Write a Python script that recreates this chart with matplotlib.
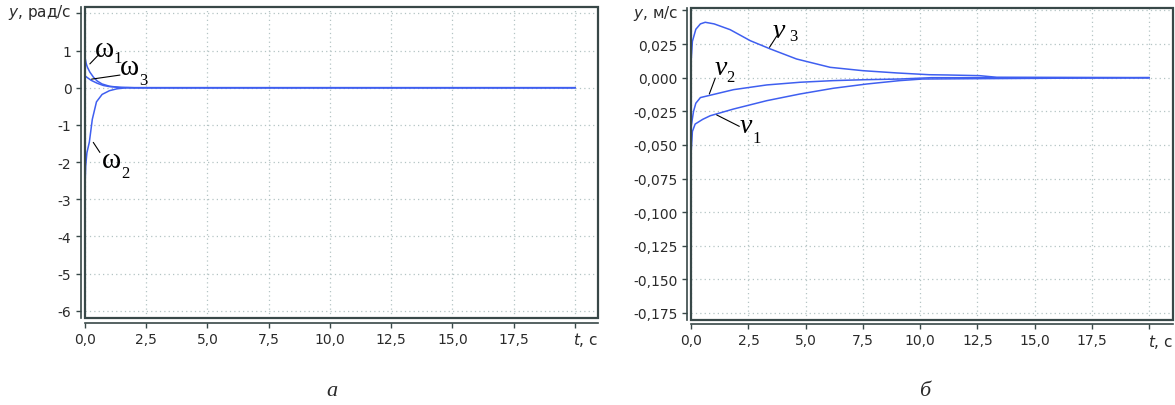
import matplotlib
matplotlib.use('Agg')
import matplotlib.pyplot as plt
from matplotlib.patches import Rectangle
from matplotlib.ticker import FuncFormatter, FixedLocator

# panel a: angular velocities, rad/s
t_w1 = [0, 0.05, 0.1, 0.2, 0.35, 0.5, 0.7, 1.0, 1.4, 2.0, 20]
w1 = [0.82, 0.65, 0.55, 0.42, 0.28, 0.18, 0.10, 0.04, 0.01, 0, 0]
t_w3 = [0, 0.1, 0.25, 0.5, 0.75, 1.0, 1.5, 2.0, 20]
w3 = [0.32, 0.27, 0.20, 0.12, 0.06, 0.03, 0.005, 0, 0]
t_w2 = [0, 0.03, 0.08, 0.18, 0.3, 0.47, 0.7, 1.0, 1.3, 1.7, 20]
w2 = [-2.65, -2.1, -1.75, -1.46, -0.85, -0.38, -0.18, -0.08, -0.03, 0, 0]

# panel b: linear velocities, m/s
t_v3 = [0, 0.05, 0.2, 0.4, 0.61, 1.0, 1.7, 2.58, 3.45, 4.6, 6.07, 7.5, 9.0, 10.4, 11.2, 12.6, 13.35, 20]
v3 = [0.014, 0.027, 0.036, 0.040, 0.0412, 0.040, 0.0357, 0.0275, 0.0214, 0.0139, 0.0077,
      0.0052, 0.0035, 0.0022, 0.002, 0.0015, 0.0003, 0]
t_v2 = [0, 0.1, 0.2, 0.4, 1.85, 3.3, 4.76, 6.2, 7.6, 9.1, 10.5, 20]
v2 = [-0.036, -0.025, -0.019, -0.0148, -0.0089, -0.0054, -0.0034, -0.0022, -0.0015, -0.001, 0, 0]
t_v1 = [0, 0.05, 0.17, 0.5, 0.83, 1.85, 3.3, 4.76, 6.2, 7.67, 9.1, 10.1, 20]
v1 = [-0.054, -0.040, -0.0345, -0.031, -0.0283, -0.0233, -0.0171, -0.0121, -0.0079,
      -0.0047, -0.0022, -0.001, 0]

x_ticks = [0, 2.5, 5, 7.5, 10, 12.5, 15, 17.5, 20]
ya_ticks = [-6, -5, -4, -3, -2, -1, 0, 1, 2]
yb_ticks = [-0.175, -0.15, -0.125, -0.1, -0.075, -0.05, -0.025, 0, 0.025, 0.05]

blue = '#3f5ff0'
frame = '#384848'
txt = '#2a2a2a'

fig = plt.figure(figsize=(11.75, 4.06), dpi=100)
axa = fig.add_axes([0.0723, 0.2135, 0.4364, 0.7668])
axb = fig.add_axes([0.5883, 0.2101, 0.4100, 0.7670])


def style(ax, xlim, ylim, yticks, yfmt, ylabel):
    ax.set_xlim(*xlim)
    ax.set_ylim(*ylim)
    ax.xaxis.set_major_locator(FixedLocator(x_ticks))
    ax.yaxis.set_major_locator(FixedLocator(yticks))
    ax.xaxis.set_major_formatter(FuncFormatter(
        lambda v, p: '' if v > 19 else f'{v:.1f}'.replace('.', ',')))
    ax.yaxis.set_major_formatter(FuncFormatter(yfmt))
    ax.grid(True, color='#b4c4c4', linestyle=(0, (1, 2.5)), linewidth=0.9)
    for s in ['top', 'right']:
        ax.spines[s].set_visible(False)
    for s in ['left', 'bottom']:
        ax.spines[s].set_position(('outward', 3.2))
        ax.spines[s].set_color(frame)
        ax.spines[s].set_linewidth(1.2)
    ax.add_patch(Rectangle((0, 0), 1, 1, transform=ax.transAxes, fill=False,
                           edgecolor=frame, linewidth=1.6, clip_on=False, zorder=5))
    ax.tick_params(direction='out', length=3.5, width=1, color=frame,
                   labelsize=10, labelcolor=txt, pad=3)
    ax.text(-0.026, 0.985, ylabel, transform=ax.transAxes, ha='right', va='center',
            fontsize=11, color=txt, math_fontfamily='dejavusans')
    ax.text(1.0, -0.068, r'$\mathit{t}$, с', transform=ax.transAxes, ha='right', va='center',
            fontsize=11, color=txt, math_fontfamily='dejavusans')


style(axa, (0, 20.93), (-6.2, 2.17), ya_ticks,
      lambda v, p: '' if v > 1.5 else f'{v:.0f}', r'$\mathit{y}$, рад/с')
style(axb, (0, 21.05), (-0.180, 0.0516), yb_ticks,
      lambda v, p: '' if v > 0.04 else f'{v:.3f}'.replace('.', ','), r'$\mathit{y}$, м/с')

for t, w in [(t_w1, w1), (t_w3, w3), (t_w2, w2)]:
    axa.plot(t, w, color=blue, lw=1.1, zorder=3)
for t, v in [(t_v3, v3), (t_v2, v2), (t_v1, v1)]:
    axb.plot(t, v, color=blue, lw=1.1, zorder=3)

lead = dict(arrowstyle='-', lw=0.8, color='black', shrinkA=0, shrinkB=0)


def label(ax, x, y, sym, sub, dx, dy, italic):
    # serif symbol on its baseline, with a lowered subscript digit
    ax.text(x, y, sym, fontsize=21 if not italic else 20, family='Liberation Serif',
            style='italic' if italic else 'normal', ha='left', va='baseline', color='black')
    ax.annotate(sub, xy=(x, y), xytext=(dx, -dy), textcoords='offset points',
                fontsize=12, family='Liberation Serif', ha='left', va='baseline',
                color='black')


# curve labels, panel a
axa.annotate('', xy=(0.2, 0.64), xytext=(0.52, 0.86), arrowprops=lead)
label(axa, 0.41, 0.85, 'ω', '1', 13, 4.5, False)
axa.annotate('', xy=(0.27, 0.23), xytext=(1.43, 0.34), arrowprops=lead)
label(axa, 1.43, 0.37, 'ω', '3', 14, 7, False)
axa.annotate('', xy=(0.34, -1.47), xytext=(0.61, -1.74), arrowprops=lead)
label(axa, 0.68, -2.14, 'ω', '2', 14, 7, False)

# curve labels, panel b
axb.annotate('', xy=(3.42, 0.0226), xytext=(3.74, 0.0311), arrowprops=lead)
label(axb, 3.55, 0.0301, 'v', '3', 12, 2, True)
axb.annotate('', xy=(0.79, -0.0121), xytext=(1.05, -0.0003), arrowprops=lead)
label(axb, 1.0, 0.0028, 'v', '2', 9, 5, True)
axb.annotate('', xy=(1.11, -0.0277), xytext=(2.1, -0.0362), arrowprops=lead)
label(axb, 2.12, -0.0406, 'v', '1', 9, 7, True)

fig.text(332 / 1175, 1 - 392 / 406, 'а', fontsize=16, style='italic',
         family='Liberation Serif', ha='center', va='center', color=txt)
fig.text(925 / 1175, 1 - 392 / 406, 'б', fontsize=16, style='italic',
         family='Liberation Serif', ha='center', va='center', color=txt)

fig.savefig('out.png', dpi=100)
